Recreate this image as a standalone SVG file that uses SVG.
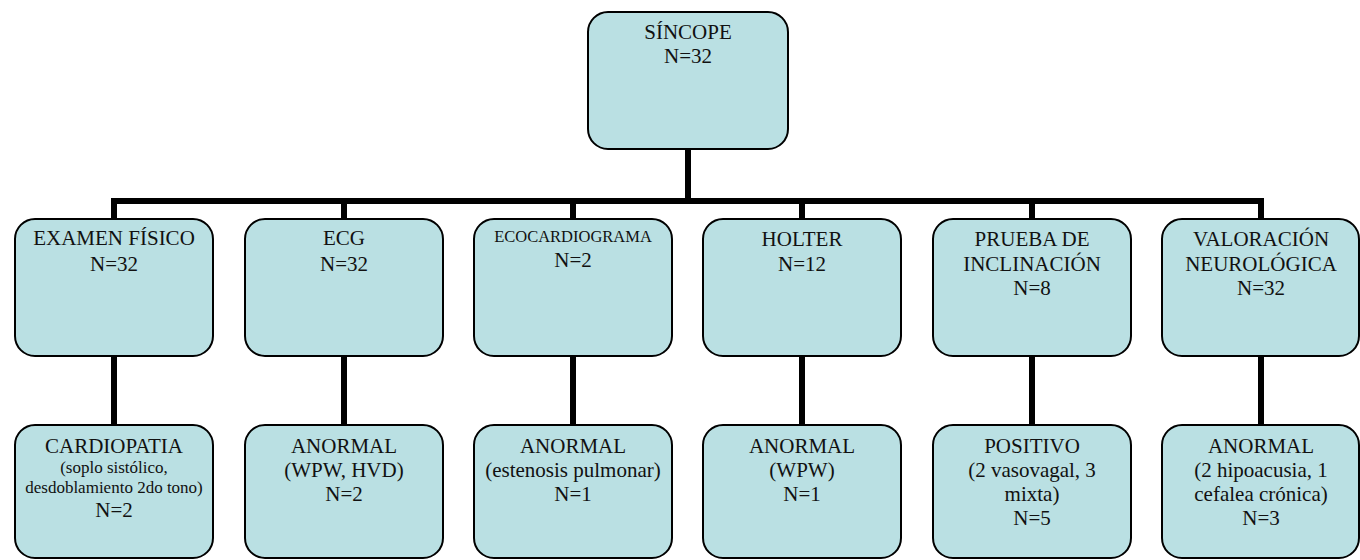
<svg xmlns="http://www.w3.org/2000/svg" width="1360" height="560" viewBox="0 0 1360 560">
<style>
.box{fill:#BAE0E3;stroke:#000;stroke-width:2}
.t{font-family:"Liberation Serif","Times New Roman",serif;font-size:21px;fill:#111;text-anchor:middle}
.s{font-size:17px}
.e{font-size:16.5px}
.c{stroke:#000;stroke-width:6;fill:none;stroke-linecap:square}
</style>
<rect width="1360" height="560" fill="#fff"/>
<g id="connectors">
<line class="c" x1="688" y1="150" x2="688" y2="201"/>
<line class="c" x1="114" y1="201" x2="1261" y2="201"/>
<line class="c" x1="114" y1="201" x2="114" y2="218"/>
<line class="c" x1="344" y1="201" x2="344" y2="218"/>
<line class="c" x1="573" y1="201" x2="573" y2="218"/>
<line class="c" x1="802" y1="201" x2="802" y2="218"/>
<line class="c" x1="1032" y1="201" x2="1032" y2="218"/>
<line class="c" x1="1261" y1="201" x2="1261" y2="218"/>
<line class="c" x1="114" y1="357" x2="114" y2="424"/>
<line class="c" x1="344" y1="357" x2="344" y2="424"/>
<line class="c" x1="573" y1="357" x2="573" y2="424"/>
<line class="c" x1="802" y1="357" x2="802" y2="424"/>
<line class="c" x1="1032" y1="357" x2="1032" y2="424"/>
<line class="c" x1="1261" y1="357" x2="1261" y2="424"/>
</g>
<g id="sincope">
<rect class="box" x="588" y="12" width="200" height="137" rx="20"/>
<text class="t" x="688" y="39">SÍNCOPE</text>
<text class="t" x="688" y="63">N=32</text>
</g>
<g id="examen">
<rect class="box" x="15" y="219" width="198" height="137" rx="20"/>
<text class="t" x="114" y="245">EXAMEN FÍSICO</text>
<text class="t" x="114" y="271">N=32</text>
</g>
<g id="ecg">
<rect class="box" x="245" y="219" width="198" height="137" rx="20"/>
<text class="t" x="344" y="245">ECG</text>
<text class="t" x="344" y="271">N=32</text>
</g>
<g id="eco">
<rect class="box" x="474" y="219" width="198" height="137" rx="20"/>
<text class="t e" x="573" y="242">ECOCARDIOGRAMA</text>
<text class="t" x="573" y="267">N=2</text>
</g>
<g id="holter">
<rect class="box" x="703" y="219" width="198" height="137" rx="20"/>
<text class="t" x="802" y="246">HOLTER</text>
<text class="t" x="802" y="271">N=12</text>
</g>
<g id="prueba">
<rect class="box" x="933" y="219" width="198" height="137" rx="20"/>
<text class="t" x="1032" y="246">PRUEBA DE</text>
<text class="t" x="1032" y="271">INCLINACIÓN</text>
<text class="t" x="1032" y="295">N=8</text>
</g>
<g id="valoracion">
<rect class="box" x="1162" y="219" width="197" height="137" rx="20"/>
<text class="t" x="1261" y="246">VALORACIÓN</text>
<text class="t" x="1261" y="271">NEUROLÓGICA</text>
<text class="t" x="1261" y="295">N=32</text>
</g>
<g id="cardiopatia">
<rect class="box" x="15" y="425" width="198" height="133" rx="20"/>
<text class="t" x="114" y="453">CARDIOPATIA</text>
<text class="t s" x="114" y="473">(soplo sistólico,</text>
<text class="t s" x="114" y="493">desdoblamiento 2do tono)</text>
<text class="t" x="114" y="517">N=2</text>
</g>
<g id="ecg-anormal">
<rect class="box" x="245" y="425" width="198" height="133" rx="20"/>
<text class="t" x="344" y="453">ANORMAL</text>
<text class="t" x="344" y="477">(WPW, HVD)</text>
<text class="t" x="344" y="501">N=2</text>
</g>
<g id="eco-anormal">
<rect class="box" x="474" y="425" width="198" height="133" rx="20"/>
<text class="t" x="573" y="453">ANORMAL</text>
<text class="t" x="573" y="477">(estenosis pulmonar)</text>
<text class="t" x="573" y="501">N=1</text>
</g>
<g id="holter-anormal">
<rect class="box" x="703" y="425" width="198" height="133" rx="20"/>
<text class="t" x="802" y="453">ANORMAL</text>
<text class="t" x="802" y="477">(WPW)</text>
<text class="t" x="802" y="501">N=1</text>
</g>
<g id="positivo">
<rect class="box" x="933" y="425" width="198" height="133" rx="20"/>
<text class="t" x="1032" y="453">POSITIVO</text>
<text class="t" x="1032" y="477">(2 vasovagal, 3</text>
<text class="t" x="1032" y="501">mixta)</text>
<text class="t" x="1032" y="525">N=5</text>
</g>
<g id="neuro-anormal">
<rect class="box" x="1162" y="425" width="197" height="133" rx="20"/>
<text class="t" x="1261" y="453">ANORMAL</text>
<text class="t" x="1261" y="477">(2 hipoacusia, 1</text>
<text class="t" x="1261" y="501">cefalea crónica)</text>
<text class="t" x="1261" y="525">N=3</text>
</g>
</svg>
